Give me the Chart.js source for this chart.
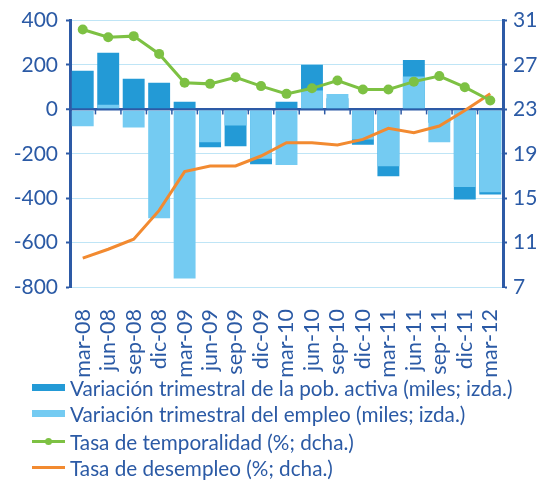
<!DOCTYPE html>
<html>
<head>
<meta charset="utf-8">
<script src="https://cdn.jsdelivr.net/npm/chart.js@4"></script>
<style>
  html, body { margin: 0; padding: 0; background: #fff; }
  #wrap { position: relative; width: 537px; height: 482px; }
  canvas { position: absolute; left: 0; top: 0; }
  .legend { position: absolute; left: 0; top: 0; width: 537px; font-family: Lato, sans-serif; font-size: 20.7px; color: #2b5aa5; }
  .row { position: absolute; left: 32px; height: 26px; white-space: nowrap; }
  .mk { position: absolute; left: 0; width: 33px; }
  .txt { position: absolute; left: 38px; top: 0; line-height: 26px; }
</style>
</head>
<body>
<div id="wrap">
  <canvas id="c" width="537" height="482"></canvas>
  <div class="legend" id="legend"></div>
</div>
<script>
const categories = ['mar-08','jun-08','sep-08','dic-08','mar-09','jun-09','sep-09','dic-09','mar-10','jun-10','sep-10','dic-10','mar-11','jun-11','sep-11','dic-11','mar-12'];
const poblacionActiva = [174, 255, 138, 120, 35, -171, -166, -247, 35, 201, 50, -159, -301, 223, -60, -406, -383];
const empleo = [-76, 21, -81, -490, -762, -148, -73, -222, -251, 85, 69, -136, -256, 148, -148, -349, -373];
const temporalidad = [30.2, 29.5, 29.6, 28.0, 25.4, 25.3, 25.9, 25.1, 24.4, 24.9, 25.6, 24.8, 24.8, 25.5, 26.0, 25.0, 23.8];
const desempleo = [9.6, 10.4, 11.3, 13.9, 17.4, 17.9, 17.9, 18.8, 20.0, 20.0, 19.8, 20.3, 21.3, 20.9, 21.5, 22.9, 24.4];
const legendLabels = [
  'Variación trimestral de la pob. activa (miles; izda.)',
  'Variación trimestral del empleo (miles; izda.)',
  'Tasa de temporalidad (%; dcha.)',
  'Tasa de desempleo (%; dcha.)'
];

const TEXT = '#2b5aa5';
const AXIS = '#2d5aa6';
const GRID = '#bfe5f6';
const DARK = '#239ad6';
const LIGHT = '#74cbf2';
const GREEN = '#7dc143';
const ORANGE = '#f28a30';
const FONT = 'Lato, sans-serif';

const zeroTicks = {
  id: 'zeroTicks',
  beforeDatasetsDraw(chart) {
    const x = chart.scales.x, y = chart.scales.y;
    const y0 = y.getPixelForValue(0);
    const ctx = chart.ctx;
    ctx.save();
    ctx.strokeStyle = AXIS;
    ctx.lineWidth = 1.5;
    for (let i = 1; i < categories.length; i++) {
      const px = (x.getPixelForValue(i - 1) + x.getPixelForValue(i)) / 2;
      ctx.beginPath();
      ctx.moveTo(px, y0);
      ctx.lineTo(px, y0 + 5);
      ctx.stroke();
    }
    ctx.restore();
  }
};

new Chart(document.getElementById('c'), {
  type: 'bar',
  data: {
    labels: categories,
    datasets: [
      { type: 'bar', label: legendLabels[0], data: poblacionActiva, backgroundColor: DARK, yAxisID: 'y', order: 4, grouped: false, categoryPercentage: 1, barPercentage: 0.86, borderWidth: 0 },
      { type: 'bar', label: legendLabels[1], data: empleo, backgroundColor: LIGHT, yAxisID: 'y', order: 3, grouped: false, categoryPercentage: 1, barPercentage: 0.86, borderWidth: 0 },
      { type: 'line', label: legendLabels[2], data: temporalidad, borderColor: GREEN, backgroundColor: GREEN, yAxisID: 'y1', order: 1, borderWidth: 3, pointRadius: 5, pointHoverRadius: 5, pointBackgroundColor: GREEN, pointBorderWidth: 0, tension: 0 },
      { type: 'line', label: legendLabels[3], data: desempleo, borderColor: ORANGE, backgroundColor: ORANGE, yAxisID: 'y1', order: 2, borderWidth: 3, pointRadius: 0, tension: 0 }
    ]
  },
  options: {
    responsive: false,
    animation: false,
    events: [],
    layout: { padding: { top: 20, left: 0, right: 0, bottom: 0 } },
    plugins: { legend: { display: false }, tooltip: { enabled: false } },
    scales: {
      x: {
        offset: true,
        grid: { display: false },
        border: { display: false },
        ticks: { color: TEXT, font: { family: FONT, size: 21.5 }, minRotation: 90, maxRotation: 90, padding: 14, autoSkip: false },
        afterFit(s) { s.height = 195; }
      },
      y: {
        position: 'left',
        min: -800, max: 400,
        ticks: { stepSize: 200, color: TEXT, font: { family: FONT, size: 21 }, padding: 8 },
        grid: {
          color: (c) => c.tick && c.tick.value === 0 ? AXIS : GRID,
          lineWidth: (c) => c.tick && c.tick.value === 0 ? 2.5 : 1,
          tickColor: AXIS, tickLength: 4, tickWidth: 2
        },
        border: { display: true, color: AXIS, width: 3 },
        afterFit(s) { s.width = 70; }
      },
      y1: {
        position: 'right',
        min: 7, max: 31,
        ticks: { stepSize: 4, color: TEXT, font: { family: FONT, size: 21 }, padding: 6 },
        grid: { drawOnChartArea: false, tickColor: AXIS, tickLength: 4, tickWidth: 2 },
        border: { display: true, color: AXIS, width: 3 },
        afterFit(s) { s.width = 34; }
      }
    }
  },
  plugins: [zeroTicks]
});

// HTML legend
const markers = [
  '<div class="mk" style="top:9px;height:7px;background:' + DARK + '"></div>',
  '<div class="mk" style="top:9px;height:7px;background:' + LIGHT + '"></div>',
  '<div class="mk" style="top:11px;height:3px;background:' + GREEN + '"></div><div style="position:absolute;left:13px;top:9px;width:7px;height:7px;border-radius:50%;background:' + GREEN + '"></div>',
  '<div class="mk" style="top:11px;height:3px;background:' + ORANGE + '"></div>'
];
const rowTops = [375, 401, 429, 455];
const lg = document.getElementById('legend');
legendLabels.forEach((t, i) => {
  const r = document.createElement('div');
  r.className = 'row';
  r.style.top = rowTops[i] + 'px';
  r.innerHTML = markers[i] + '<span class="txt">' + t + '</span>';
  lg.appendChild(r);
});
</script>
</body>
</html>
